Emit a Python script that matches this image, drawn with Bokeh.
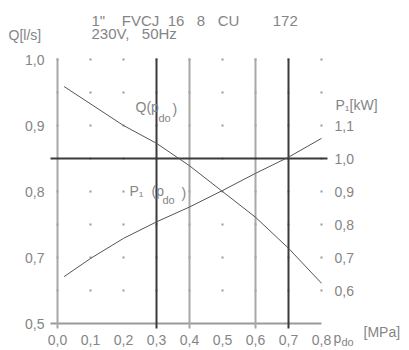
from bokeh.plotting import figure
from bokeh.models import Range1d, LinearAxis, FixedTicker, Label
from bokeh.embed import file_html
from bokeh.resources import INLINE

# ---- data ----
x_ticks = [0.0, 0.1, 0.2, 0.3, 0.4, 0.5, 0.6, 0.7, 0.8]
x_tick_labels = ["0,0", "0,1", "0,2", "0,3", "0,4", "0,5", "0,6", "0,7", "0,8"]
q_ticks = [0.6, 0.7, 0.8, 0.9, 1.0]
q_tick_labels = ["0,5", "0,7", "0,8", "0,9", "1,0"]
p_ticks = [0.6, 0.7, 0.8, 0.9, 1.0, 1.1]
p_tick_labels = ["0,6", "0,7", "0,8", "0,9", "1,0", "1,1"]
grid_rows = [0.6, 0.7, 0.8, 0.9, 1.0, 1.1, 1.2, 1.3]

pressure_q = [0.02, 0.2, 0.3, 0.4, 0.5, 0.6, 0.7, 0.8]
flow_q = [0.959, 0.900, 0.873, 0.839, 0.800, 0.761, 0.714, 0.661]
pressure_p = [0.02, 0.1, 0.2, 0.3, 0.4, 0.5, 0.6, 0.7, 0.8]
power_p = [0.642, 0.697, 0.758, 0.808, 0.853, 0.903, 0.955, 1.004, 1.061]

thin_lines_x = [0.0, 0.4, 0.6]
thick_lines_x = [0.3, 0.7]
ref_power = 1.0

# ---- layout (picture pixels) ----
W, H = 409, 350
X0PX, XPX = 57, 330          # x=0 at 57px, 330 px per unit
P05PX, PPX = 323, 330        # P=0.5 at 323px
Q1PX, QPX = 59, 660          # Q=1.0 at 59px


def dx(px):
    return (px - X0PX) / XPX


def dp(py):
    return 0.5 + (P05PX - py) / PPX


def dq(py):
    return 1.0 - (py - Q1PX) / QPX


TXT = "#858585"
FONT = "Liberation Sans"

p = figure(width=W, height=H, output_backend="svg", toolbar_location=None,
           x_range=Range1d(dx(0), dx(W)), y_range=Range1d(dp(H), dp(0)),
           x_axis_location=None, y_axis_location=None,
           min_border_left=0, min_border_right=0, min_border_top=0,
           min_border_bottom=0)
p.extra_y_ranges = {"q": Range1d(dq(H), dq(0))}
p.xgrid.visible = False
p.ygrid.visible = False
p.outline_line_color = None
p.background_fill_color = "white"
p.border_fill_color = "white"


def style_axis(ax, ticks, labels, standoff):
    ax.ticker = FixedTicker(ticks=ticks)
    ax.major_label_overrides = {t: l for t, l in zip(ticks, labels)}
    ax.axis_line_color = None
    ax.major_tick_line_color = None
    ax.minor_tick_line_color = None
    ax.major_label_text_color = TXT
    ax.major_label_text_font = FONT
    ax.major_label_text_font_size = "14px"
    ax.major_label_standoff = standoff


left = LinearAxis(y_range_name="q", fixed_location=dx(50))
style_axis(left, q_ticks, q_tick_labels, 0)
p.add_layout(left, "left")

right = LinearAxis(fixed_location=dx(328))
style_axis(right, p_ticks, p_tick_labels, 0)
p.add_layout(right, "right")

bottom = LinearAxis(fixed_location=0.5)
style_axis(bottom, x_ticks, x_tick_labels, 5)
p.add_layout(bottom, "below")

# bottom axis line
p.segment(x0=[dx(50)], y0=[0.5], x1=[x_ticks[-1]], y1=[0.5], line_color="#9a9a9a", line_width=2)

# dotted grid marks
gx = [x for x in x_ticks for _ in grid_rows]
gy = [r for _ in x_ticks for r in grid_rows]
p.scatter(gx, gy, marker="square", size=2, fill_color="#999999", line_color=None)

# vertical lines
vtop, vbot = dp(58), dp(328)
p.segment(x0=thin_lines_x, y0=[vbot] * len(thin_lines_x), x1=thin_lines_x,
          y1=[vtop] * len(thin_lines_x), line_color="#a8a8a8", line_width=2)
p.segment(x0=thick_lines_x, y0=[vbot] * len(thick_lines_x), x1=thick_lines_x,
          y1=[vtop] * len(thick_lines_x), line_color="#3a3a3a", line_width=2)

# horizontal reference line
p.segment(x0=[dx(50)], y0=[ref_power], x1=[dx(327)], y1=[ref_power], line_color="#3a3a3a", line_width=2)

# curves
p.line(pressure_q, flow_q, y_range_name="q", line_color="#555555", line_width=1)
p.line(pressure_p, power_p, line_color="#555555", line_width=1)


def lab(text, px, py, size="14px"):
    p.add_layout(Label(x=dx(px), y=dp(py), text=text, text_color=TXT,
                       text_font=FONT, text_font_size=size,
                       text_align="left", text_baseline="alphabetic"))


NB = "\u00a0"
lab('1"' + NB * 4 + "FVCJ" + NB * 2 + "16" + NB * 3 + "8" + NB * 3 + "CU" + NB * 8 + "172", 91, 20, "15px")
lab("230V," + NB * 3 + "50Hz", 91, 33, "15px")
lab("Q[l/s]", 8, 34)
lab("P\u2081[kW]", 335, 104)
lab("Q(p", 135, 106)
lab("do", 158, 117, "11px")
lab(")", 172, 108)
lab("P\u2081", 129, 190)
lab("(p", 151, 190)
lab("do", 162, 199, "11px")
lab(")", 181, 192)
lab("p", 333, 337)
lab("do", 341, 341, "11px")
lab("[MPa]", 363, 331, "14px")

open("out.html", "w").write(file_html(p, INLINE))
